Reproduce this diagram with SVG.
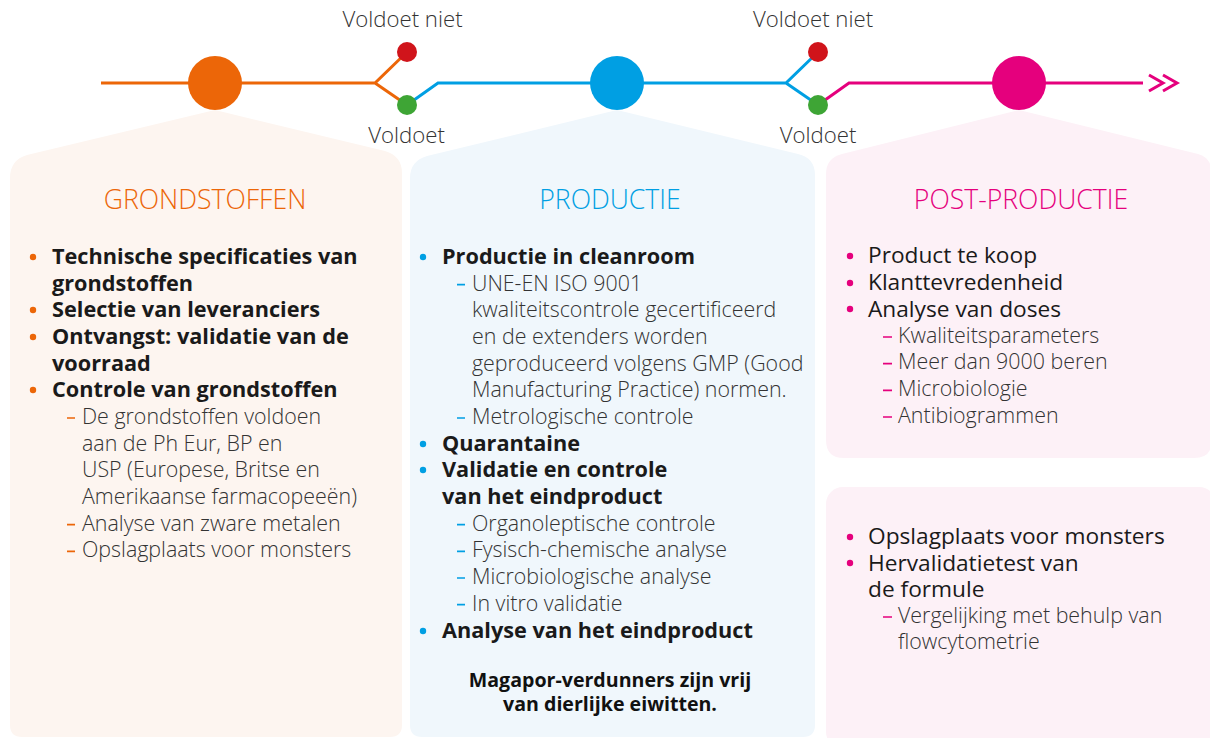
<svg xmlns="http://www.w3.org/2000/svg" width="1210" height="738" viewBox="0 0 1210 738">
<style>
text{font-family:"Open Sans","Noto Sans","DejaVu Sans",sans-serif}
.lbl{font-size:22.2px;font-weight:300;fill:#333;text-anchor:middle}
.ttl{font-size:26.6px;font-weight:300;text-anchor:middle}
.b{font-size:21.7px;font-weight:700;fill:#1a1a1a}
.r{font-size:22.7px;font-weight:400;fill:#1a1a1a}
.s{font-size:21.4px;font-weight:300;fill:#333}
.note{font-size:19.6px;font-weight:700;fill:#111;text-anchor:middle}
.ln{fill:none;stroke-width:3;stroke-linejoin:miter}
.dash{fill:none;stroke-width:1.7}
.or{stroke:#EC6608}.bl{stroke:#009FE3}.pk{stroke:#E5007D}
.fo{fill:#EC6608}.fb{fill:#009FE3}.fp{fill:#E5007D}
</style>
<defs/>
<g id="panels">
<g id="panel-grondstoffen">
<path d="M10,737 L10,178 Q10,160 27,155 L215,110 L385,151 Q402,156 402,173 L402,725 Q402,737 390,737 L22,737 Q10,737 10,725 Z" fill="#FDF5F0"/>
</g>
<g id="panel-productie">
<path d="M410,737 L410,178 Q410,161 427,156 L617,110 L798,154 Q815,158 815,175 L815,725 Q815,737 803,737 L422,737 Q410,737 410,725 Z" fill="#F0F7FC"/>
</g>
<g id="panel-postproductie">
<path d="M826,440 L826,174 Q826,158 842,154 L1019,110 L1198,154 Q1212,158 1212,174 L1212,440 Q1212,458 1194,458 L844,458 Q826,458 826,440 Z" fill="#FDF1F7"/>
</g>
<g id="panel-post2">
<rect x="826" y="487" width="390" height="262" rx="17" fill="#FDF1F7"/>
</g>
</g>
<g id="connectors">
<path class="ln or" d="M101,83 H375 L407,52 M375,83 L407,105"/>
<path class="ln bl" d="M407,105 L438,83 H786 L818,52 M786,83 L818,105"/>
<path class="ln pk" d="M818,105 L849,83 H1143"/>
<path class="ln pk" stroke-width="2.6" d="M1149,75 L1163,83 L1149,91 M1163,75 L1177,83 L1163,91"/>
</g>
<g id="stage-grondstoffen"><circle cx="215" cy="83" r="27" class="fo"/></g>
<g id="stage-productie"><circle cx="617" cy="83" r="27" class="fb"/></g>
<g id="stage-postproductie"><circle cx="1019" cy="83" r="27" class="fp"/></g>
<g id="check1">
<circle cx="407" cy="52" r="10" fill="#D0141B"/>
<circle cx="407" cy="105" r="10" fill="#3EA535"/>
<text class="lbl" x="402.5" y="27">Voldoet niet</text>
<text class="lbl" x="406.5" y="143">Voldoet</text>
</g>
<g id="check2">
<circle cx="818" cy="52" r="10" fill="#D0141B"/>
<circle cx="818" cy="105" r="10" fill="#3EA535"/>
<text class="lbl" x="813" y="27">Voldoet niet</text>
<text class="lbl" x="818" y="143">Voldoet</text>
</g>
<g id="text-grondstoffen">
<text class="ttl" x="205" y="209" fill="#EC6608">GRONDSTOFFEN</text>
<g class="fo"><circle cx="33" cy="257" r="3.2"/><circle cx="33" cy="310" r="3.2"/><circle cx="33" cy="337" r="3.2"/><circle cx="33" cy="390" r="3.2"/></g>
<text class="b" x="52" y="264">Technische specificaties van</text>
<text class="b" x="52" y="290.7">grondstoffen</text>
<text class="b" x="52" y="317.3">Selectie van leveranciers</text>
<text class="b" x="52" y="344">Ontvangst: validatie van de</text>
<text class="b" x="52" y="370.7">voorraad</text>
<text class="b" x="52" y="397.3">Controle van grondstoffen</text>
<path class="dash or" d="M67,418 H75 M67,524.7 H75 M67,551.3 H75"/>
<text class="s" x="82" y="424">De grondstoffen voldoen</text>
<text class="s" x="82" y="450.7">aan de Ph Eur, BP en</text>
<text class="s" x="82" y="477.3">USP (Europese, Britse en</text>
<text class="s" x="82" y="504">Amerikaanse farmacopeeën)</text>
<text class="s" x="82" y="530.7">Analyse van zware metalen</text>
<text class="s" x="82" y="557.3">Opslagplaats voor monsters</text>
</g>
<g id="text-productie">
<text class="ttl" x="610" y="209" fill="#009FE3">PRODUCTIE</text>
<g class="fb"><circle cx="423" cy="257" r="3.2"/><circle cx="423" cy="444" r="3.2"/><circle cx="423" cy="470" r="3.2"/><circle cx="423" cy="631" r="3.2"/></g>
<text class="b" x="442" y="264">Productie in cleanroom</text>
<path class="dash bl" d="M457,284.7 H465 M457,418 H465 M457,524.7 H465 M457,551.3 H465 M457,578 H465 M457,604.7 H465"/>
<text class="s" x="472" y="290.7">UNE-EN ISO 9001</text>
<text class="s" x="472" y="317.3">kwaliteitscontrole gecertificeerd</text>
<text class="s" x="472" y="344">en de extenders worden</text>
<text class="s" x="472" y="370.7">geproduceerd volgens GMP (Good</text>
<text class="s" x="472" y="397.3">Manufacturing Practice) normen.</text>
<text class="s" x="472" y="424">Metrologische controle</text>
<text class="b" x="442" y="450.7">Quarantaine</text>
<text class="b" x="442" y="477.3">Validatie en controle</text>
<text class="b" x="442" y="504">van het eindproduct</text>
<text class="s" x="472" y="530.7">Organoleptische controle</text>
<text class="s" x="472" y="557.3">Fysisch-chemische analyse</text>
<text class="s" x="472" y="584">Microbiologische analyse</text>
<text class="s" x="472" y="610.7">In vitro validatie</text>
<text class="b" x="442" y="638">Analyse van het eindproduct</text>
<text class="note" x="610" y="686.5">Magapor-verdunners zijn vrij</text>
<text class="note" x="610" y="710.5">van dierlijke eiwitten.</text>
</g>
<g id="text-postproductie">
<text class="ttl" x="1021" y="209" fill="#E5007D">POST-PRODUCTIE</text>
<g class="fp"><circle cx="850" cy="256" r="3.2"/><circle cx="850" cy="283" r="3.2"/><circle cx="850" cy="309" r="3.2"/><circle cx="850" cy="537" r="3.2"/><circle cx="850" cy="563" r="3.2"/></g>
<text class="r" x="868" y="263.3">Product te koop</text>
<text class="r" x="868" y="290">Klanttevredenheid</text>
<text class="r" x="868" y="316.7">Analyse van doses</text>
<path class="dash pk" d="M883,337 H892 M883,363.7 H892 M883,390.3 H892 M883,417 H892 M883,617 H892"/>
<text class="s" x="898" y="342.7">Kwaliteitsparameters</text>
<text class="s" x="898" y="369.3">Meer dan 9000 beren</text>
<text class="s" x="898" y="396">Microbiologie</text>
<text class="s" x="898" y="422.7">Antibiogrammen</text>
<text class="r" x="868" y="544">Opslagplaats voor monsters</text>
<text class="r" x="868" y="570.7">Hervalidatietest van</text>
<text class="r" x="868" y="597.3">de formule</text>
<text class="s" x="898" y="622.7">Vergelijking met behulp van</text>
<text class="s" x="898" y="649.3">flowcytometrie</text>
</g>
</svg>
